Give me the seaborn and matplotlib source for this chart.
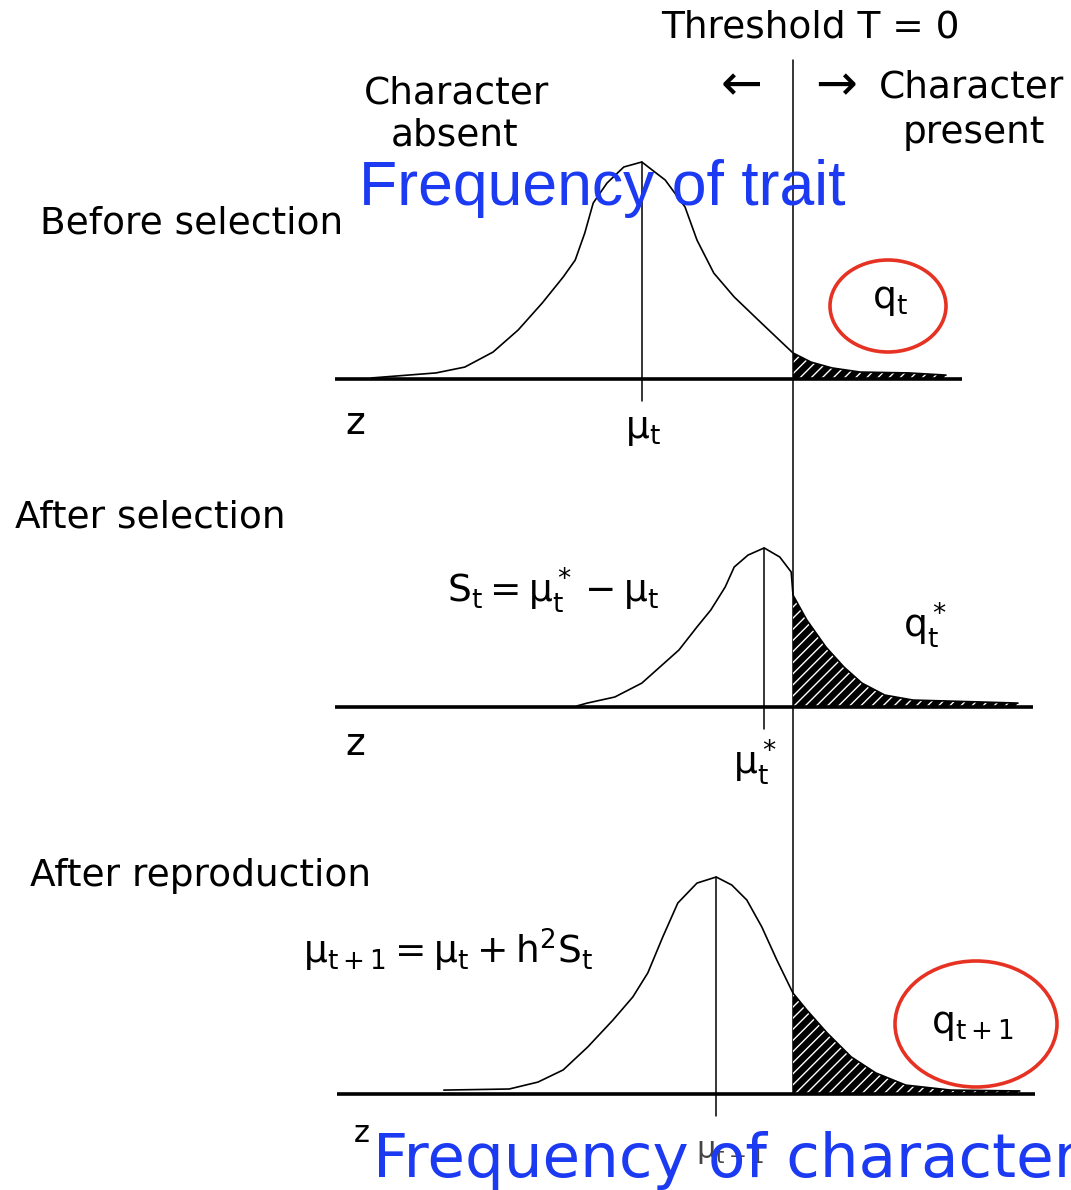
import seaborn as sns
import matplotlib.pyplot as plt
from matplotlib.patches import Ellipse

# Liability scale z (threshold T = 0); heights relative to the peak of the first curve
before_z = [-7.02, -5.95, -5.47, -5.0, -4.58, -4.18, -3.83, -3.63, -3.47, -3.33, -3.1, -2.82,
            -2.52, -2.13, -1.8, -1.6, -1.32, -0.98, -0.58, -0.23, 0.0, 0.3, 0.65, 1.12, 1.93, 2.55]
before_f = [0.005, 0.028, 0.055, 0.124, 0.226, 0.35, 0.47, 0.548, 0.673, 0.811, 0.903, 0.977,
            1.0, 0.917, 0.793, 0.64, 0.488, 0.378, 0.272, 0.18, 0.12, 0.078, 0.051, 0.032, 0.028, 0.018]
before_mean = -2.52

selected_z = [-3.6, -3.43, -2.97, -2.52, -2.22, -1.9, -1.6, -1.37, -1.13, -0.98, -0.75, -0.48,
              -0.22, -0.03, 0.0, 0.23, 0.55, 0.85, 1.15, 1.53, 2.0, 3.15, 3.75]
selected_f = [0.005, 0.018, 0.046, 0.11, 0.184, 0.263, 0.369, 0.447, 0.553, 0.645, 0.7, 0.733,
              0.691, 0.622, 0.516, 0.401, 0.276, 0.184, 0.11, 0.055, 0.032, 0.023, 0.018]
selected_mean = -0.48

offspring_z = [-5.82, -4.73, -4.25, -3.83, -3.42, -3.0, -2.67, -2.42, -2.17, -1.92, -1.6, -1.28,
               -1.02, -0.77, -0.52, -0.27, 0.0, 0.23, 0.57, 0.97, 1.38, 1.88, 2.63, 3.78]
offspring_f = [0.018, 0.023, 0.055, 0.111, 0.217, 0.341, 0.447, 0.558, 0.724, 0.88, 0.972, 1.0,
               0.963, 0.894, 0.77, 0.618, 0.465, 0.387, 0.281, 0.171, 0.097, 0.041, 0.018, 0.014]
offspring_mean = -1.28

threshold = 0.0
axis_from = [-7.63, -7.63, -7.6]
axis_to = [2.82, 4.0, 4.03]

W, H = 1071, 1190
baselines = [379, 707, 1094]   # pixel row of each panel's z axis
px_x, px_y = 60, 217
blue = '#1b3af2'
red = '#e63222'

sns.set_style('white')
plt.rcParams['font.family'] = ['DejaVu Sans']
plt.rcParams['mathtext.fontset'] = 'dejavusans'
plt.rcParams['hatch.linewidth'] = 1.0
plt.rcParams['text.color'] = 'black'

fig = plt.figure(figsize=(W / 100, H / 100), dpi=100)

panels = [(before_z, before_f, before_mean),
          (selected_z, selected_f, selected_mean),
          (offspring_z, offspring_f, offspring_mean)]

ylo, yhi = -0.45, 1.15
for i, (z, f, mean) in enumerate(panels):
    b = baselines[i]
    bottom = (H - (b - ylo * px_y)) / H
    ax = fig.add_axes([0, bottom, 1, (yhi - ylo) * px_y / H])
    ax.set_xlim(-793 / px_x, (W - 793) / px_x)
    ax.set_ylim(ylo, yhi)
    ax.patch.set_alpha(0)
    ax.axis('off')

    # hatched tail beyond the threshold
    zr = [v for v in z if v >= threshold]
    fr = [f[j] for j, v in enumerate(z) if v >= threshold]
    ax.fill_between(zr, 0, fr, facecolor='black', edgecolor='white', hatch='///', linewidth=0)

    sns.lineplot(x=z, y=f, estimator=None, sort=False, color='black', lw=1.2, ax=ax)
    ax.plot([axis_from[i], axis_to[i]], [0, 0], color='black', lw=2.6, solid_capstyle='butt')
    peak = f[z.index(mean)]
    ax.plot([mean, mean], [peak, -0.1], color='black', lw=1.1, clip_on=False)
    if i == 0:
        # one threshold line running down through all three panels
        ax.plot([threshold, threshold], [1.47, (b - baselines[-1]) / px_y],
                color='black', lw=1.1, clip_on=False)


def put(x, y, s, **kw):
    kw.setdefault('fontsize', 27)
    kw.setdefault('va', 'center')
    fig.text(x / W, 1 - y / H, s, **kw)


put(810, 28, 'Threshold T = 0', ha='center')
put(742, 86, '←', ha='center', fontsize=36)
put(836, 86, '→', ha='center', fontsize=36)
put(457, 93, 'Character', ha='center')
put(455, 135, 'absent', ha='center')
put(972, 88, 'Character', ha='center')
put(974, 133, 'present', ha='center')

put(40, 224, 'Before selection', ha='left')
put(355, 424, 'z', ha='center')
put(643, 430, r'$\mathregular{μ_t}$', ha='center')
put(890, 300, r'$\mathregular{q_t}$', ha='center')

put(15, 518, 'After selection', ha='left')
put(553, 590, r'$\mathregular{S_t = μ^*_t - μ_t}$', ha='center')
put(925, 625, r'$\mathregular{q^*_t}$', ha='center')
put(355, 745, 'z', ha='center')
put(755, 762, r'$\mathregular{μ^*_t}$', ha='center')

put(30, 876, 'After reproduction', ha='left')
put(448, 950, r'$\mathregular{μ_{t+1} = μ_t + h^2S_t}$', ha='center')
put(972, 1025, r'$\mathregular{q_{t+1}}$', ha='center')
put(362, 1133, 'z', ha='center', fontsize=22)
put(730, 1152, r'$\mathregular{μ_{t+1}}$', ha='center', fontsize=22, color='#444444')

put(602, 188, 'Frequency of trait', ha='center', fontsize=45, color=blue,
    family=['Liberation Sans', 'DejaVu Sans'])
put(373, 1160, 'Frequency of character', ha='left', fontsize=44, color=blue)

for (cx, cy, w, h) in [(888, 306, 116, 92), (976, 1024, 162, 126)]:
    fig.add_artist(Ellipse((cx / W, 1 - cy / H), w / W, h / H, transform=fig.transFigure,
                           fill=False, edgecolor=red, lw=2.6))

fig.savefig('out.png', dpi=100)
